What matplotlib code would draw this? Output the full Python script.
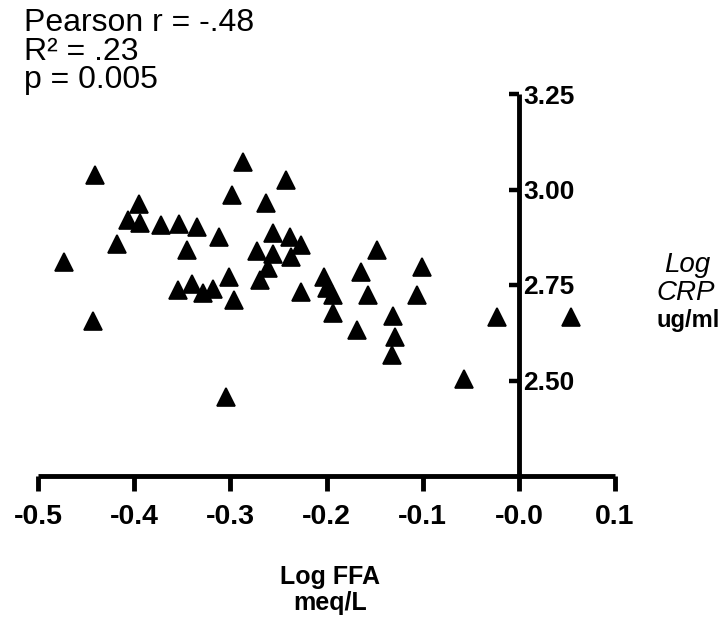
import matplotlib
matplotlib.use("Agg")
import matplotlib.pyplot as plt
from matplotlib import font_manager


def available(family):
    try:
        font_manager.findfont(font_manager.FontProperties(family=family),
                              fallback_to_default=False)
        return True
    except Exception:
        return False


SANS = "Liberation Sans"
NARROW = "Liberation Sans Narrow" if available("Liberation Sans Narrow") else SANS

# Log FFA (meq/L) vs Log CRP (ug/ml)
log_ffa = [-0.473, -0.441, -0.443, -0.418, -0.406, -0.395, -0.394, -0.372,
           -0.353, -0.335, -0.345, -0.312, -0.287, -0.298, -0.242, -0.263,
           -0.256, -0.238, -0.226, -0.272, -0.256, -0.237, -0.261, -0.269,
           -0.301, -0.354, -0.340, -0.328, -0.318, -0.296, -0.305, -0.226,
           -0.203, -0.200, -0.193, -0.193, -0.168, -0.147, -0.164, -0.157,
           -0.131, -0.129, -0.132, -0.101, -0.106, -0.057, -0.023, 0.054]
log_crp = [2.809, 3.038, 2.655, 2.857, 2.920, 2.962, 2.912, 2.906,
           2.909, 2.901, 2.841, 2.875, 3.072, 2.985, 3.024, 2.964,
           2.885, 2.875, 2.854, 2.838, 2.830, 2.823, 2.794, 2.762,
           2.770, 2.736, 2.752, 2.728, 2.739, 2.710, 2.458, 2.731,
           2.770, 2.741, 2.723, 2.678, 2.631, 2.841, 2.783, 2.725,
           2.670, 2.615, 2.568, 2.796, 2.723, 2.503, 2.665, 2.665]

x_ticks = [-0.5, -0.4, -0.3, -0.2, -0.1, 0.0, 0.1]
x_tick_labels = ["-0.5", "-0.4", "-0.3", "-0.2", "-0.1", "-0.0", "0.1"]
y_ticks = [2.50, 2.75, 3.00, 3.25]
y_tick_labels = ["2.50", "2.75", "3.00", "3.25"]

stats_lines = ["Pearson r = -.48", "R\u00b2 = .23", "p = 0.005"]

W, H = 724, 620
fig = plt.figure(figsize=(W / 100, H / 100), dpi=100)
ax = fig.add_axes([38 / W, (H - 476) / H, 577 / W, 382 / H])
ax.set_xlim(-0.5, 0.1)
ax.set_ylim(2.25, 3.25)

ax.plot(log_ffa, log_crp, linestyle="none", marker="^", markersize=13,
        color="black", markeredgecolor="black", markeredgewidth=1.2,
        clip_on=False)

# axes: bottom spine along y = 2.25, vertical spine through x = 0
for side in ("top", "left"):
    ax.spines[side].set_visible(False)
ax.spines["right"].set_position(("data", 0))
for side in ("right", "bottom"):
    ax.spines[side].set_linewidth(3.5)
    ax.spines[side].set_capstyle("butt")

ax.set_xticks(x_ticks)
ax.set_xticklabels(x_tick_labels)
ax.set_yticks(y_ticks)
ax.set_yticklabels(y_tick_labels)
ax.yaxis.set_ticks_position("right")
ax.xaxis.set_ticks_position("bottom")
ax.tick_params(axis="x", direction="out", length=11, width=3.5, pad=9)
ax.tick_params(axis="y", direction="in", length=7, width=3.2, pad=3)

for lab in ax.get_xticklabels():
    lab.set_fontfamily(NARROW)
    lab.set_fontweight("bold")
    lab.set_fontsize(24 if NARROW != SANS else 20.5)
for lab in ax.get_yticklabels():
    lab.set_fontfamily(SANS)
    lab.set_fontweight("bold")
    lab.set_fontsize(19)


def px_text(x, y, s, **kw):
    fig.text(x / W, 1 - y / H, s, **kw)


for i, line in enumerate(stats_lines):
    px_text(24, 23 + 28.5 * i, line, family=SANS, fontsize=23,
            ha="left", va="center")

px_text(687, 265, "Log", family=SANS, style="italic", fontsize=20,
        ha="center", va="center")
px_text(686, 293, "CRP", family=SANS, style="italic", fontsize=20,
        ha="center", va="center")
px_text(688, 320, "ug/ml", family=SANS, weight="bold", fontsize=17,
        ha="center", va="center")

px_text(330, 577, "Log FFA", family=NARROW, weight="bold",
        fontsize=21 if NARROW != SANS else 18, ha="center", va="center")
px_text(330, 603, "meq/L", family=NARROW, weight="bold",
        fontsize=21 if NARROW != SANS else 18, ha="center", va="center")

fig.savefig("out.png", dpi=100, facecolor="white")
